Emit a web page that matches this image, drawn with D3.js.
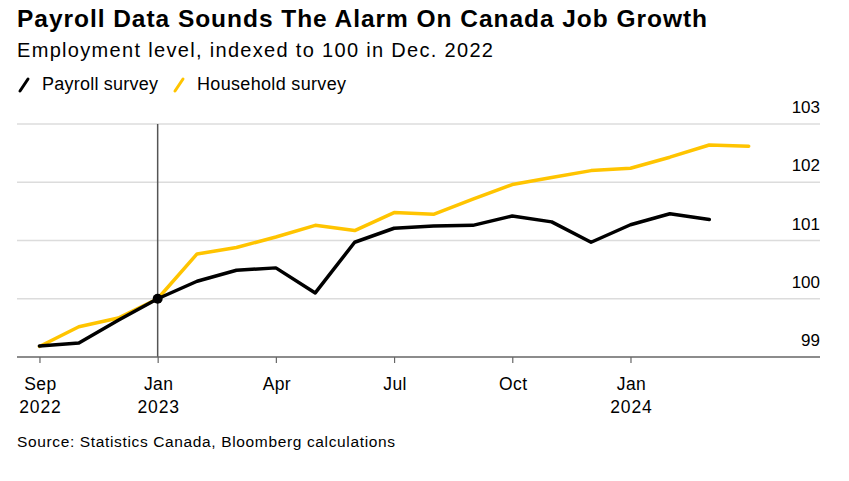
<!DOCTYPE html>
<html>
<head>
<meta charset="utf-8">
<script src="https://cdn.jsdelivr.net/npm/d3@7"></script>
<style>
  html, body { margin: 0; padding: 0; background: #fff; }
  svg { display: block; font-family: "Liberation Sans", Arial, sans-serif; }
</style>
</head>
<body>
<svg id="chart" width="849" height="481"></svg>
<script>
// ---- Data ----
const months = ["Sep 2022","Oct 2022","Nov 2022","Dec 2022","Jan 2023","Feb 2023","Mar 2023","Apr 2023","May 2023","Jun 2023","Jul 2023","Aug 2023","Sep 2023","Oct 2023","Nov 2023","Dec 2023","Jan 2024","Feb 2024","Mar 2024"];
const payroll = [99.19, 99.24, 99.63, 100.00, 100.30, 100.49, 100.53, 100.10, 100.97, 101.21, 101.25, 101.26, 101.42, 101.32, 100.97, 101.27, 101.46, 101.36];
const household = [99.18, 99.52, 99.67, 100.00, 100.77, 100.88, 101.06, 101.26, 101.17, 101.48, 101.45, 101.71, 101.96, 102.08, 102.20, 102.24, 102.43, 102.64, 102.62];
const yTicks = [99, 100, 101, 102, 103];
const xTickIndex = [0, 3, 6, 9, 12, 15];
const xTickMonth = ["Sep", "Jan", "Apr", "Jul", "Oct", "Jan"];
const xTickYear = ["2022", "2023", "", "", "", "2024"];
const seriesNames = ["Payroll survey", "Household survey"];
const seriesColors = ["#000000", "#ffc400"];
const baseIndex = 3; // Dec 2022 = 100

// ---- Layout ----
const svg = d3.select("#chart");
const plotLeft = 17, plotRight = 820, plotTop = 124, plotBottom = 357;

const x = d3.scaleLinear().domain([-0.57, 19.81]).range([plotLeft, plotRight]);
const y = d3.scaleLinear().domain([99, 103]).range([plotBottom, plotTop]);

// Title / subtitle
svg.append("text").attr("x", 17).attr("y", 26.5)
  .attr("font-size", 24.5).attr("font-weight", "bold").attr("fill", "#000")
  .attr("textLength", 690).attr("lengthAdjust", "spacing")
  .text("Payroll Data Sounds The Alarm On Canada Job Growth");
svg.append("text").attr("x", 17).attr("y", 57)
  .attr("font-size", 20).attr("fill", "#000")
  .attr("textLength", 476).attr("lengthAdjust", "spacing")
  .text("Employment level, indexed to 100 in Dec. 2022");

// Legend
const legendX = [19, 174];
const legendTextLen = [116, 149];
seriesNames.forEach((name, i) => {
  const g = svg.append("g").attr("transform", `translate(${legendX[i]},0)`);
  g.append("line").attr("x1", 1).attr("y1", 91).attr("x2", 9).attr("y2", 79)
    .attr("stroke", seriesColors[i]).attr("stroke-width", 3).attr("stroke-linecap", "round");
  g.append("text").attr("x", 23).attr("y", 89.5).attr("font-size", 18).attr("fill", "#000")
    .attr("textLength", legendTextLen[i]).attr("lengthAdjust", "spacing").text(name);
});

// Gridlines
svg.append("g").selectAll("line").data(yTicks.filter(d => d !== 99)).join("line")
  .attr("x1", plotLeft).attr("x2", plotRight)
  .attr("y1", d => y(d)).attr("y2", d => y(d))
  .attr("stroke", "#dcdcdc").attr("stroke-width", 1.5);

// Y labels (right side, above gridlines)
svg.append("g").selectAll("text").data(yTicks).join("text")
  .attr("x", plotRight).attr("y", d => y(d) - 11)
  .attr("text-anchor", "end").attr("font-size", 17).attr("fill", "#000")
  .text(d => d);

// Vertical reference line at base month
svg.append("line")
  .attr("x1", x(baseIndex)).attr("x2", x(baseIndex))
  .attr("y1", plotTop).attr("y2", plotBottom)
  .attr("stroke", "#555").attr("stroke-width", 1.5);

// X axis
const xAxis = d3.axisBottom(x).tickValues(xTickIndex).tickSize(6).tickFormat("");
const ax = svg.append("g").attr("transform", `translate(0,${plotBottom})`).call(xAxis);
ax.select(".domain").attr("stroke", "#666").attr("stroke-width", 1.5)
  .attr("d", `M${plotLeft},0H${plotRight}`);
ax.selectAll(".tick line").attr("stroke", "#666").attr("stroke-width", 1.2);

const tl = svg.append("g");
xTickIndex.forEach((idx, i) => {
  tl.append("text").attr("x", x(idx) + 1).attr("y", 389.5).attr("text-anchor", "middle")
    .attr("font-size", 17.5).attr("letter-spacing", 0.4).attr("fill", "#000").text(xTickMonth[i]);
  if (xTickYear[i]) {
    tl.append("text").attr("x", x(idx) + 1).attr("y", 412.5).attr("text-anchor", "middle")
      .attr("font-size", 17.5).attr("letter-spacing", 0.9).attr("fill", "#000").text(xTickYear[i]);
  }
});

// Lines
const line = d3.line().x((d, i) => x(i)).y(d => y(d)).curve(d3.curveLinear);
[household, payroll].forEach((s, k) => {
  const color = k === 0 ? seriesColors[1] : seriesColors[0];
  svg.append("path").datum(s).attr("d", line)
    .attr("fill", "none").attr("stroke", color).attr("stroke-width", 3.5)
    .attr("stroke-linejoin", "round").attr("stroke-linecap", "round");
});

// Base dot
svg.append("circle").attr("cx", x(baseIndex)).attr("cy", y(payroll[baseIndex]))
  .attr("r", 5).attr("fill", "#000");

// Source
svg.append("text").attr("x", 17).attr("y", 447).attr("font-size", 15.5).attr("fill", "#000")
  .attr("textLength", 378).attr("lengthAdjust", "spacing")
  .text("Source: Statistics Canada, Bloomberg calculations");
</script>
</body>
</html>
